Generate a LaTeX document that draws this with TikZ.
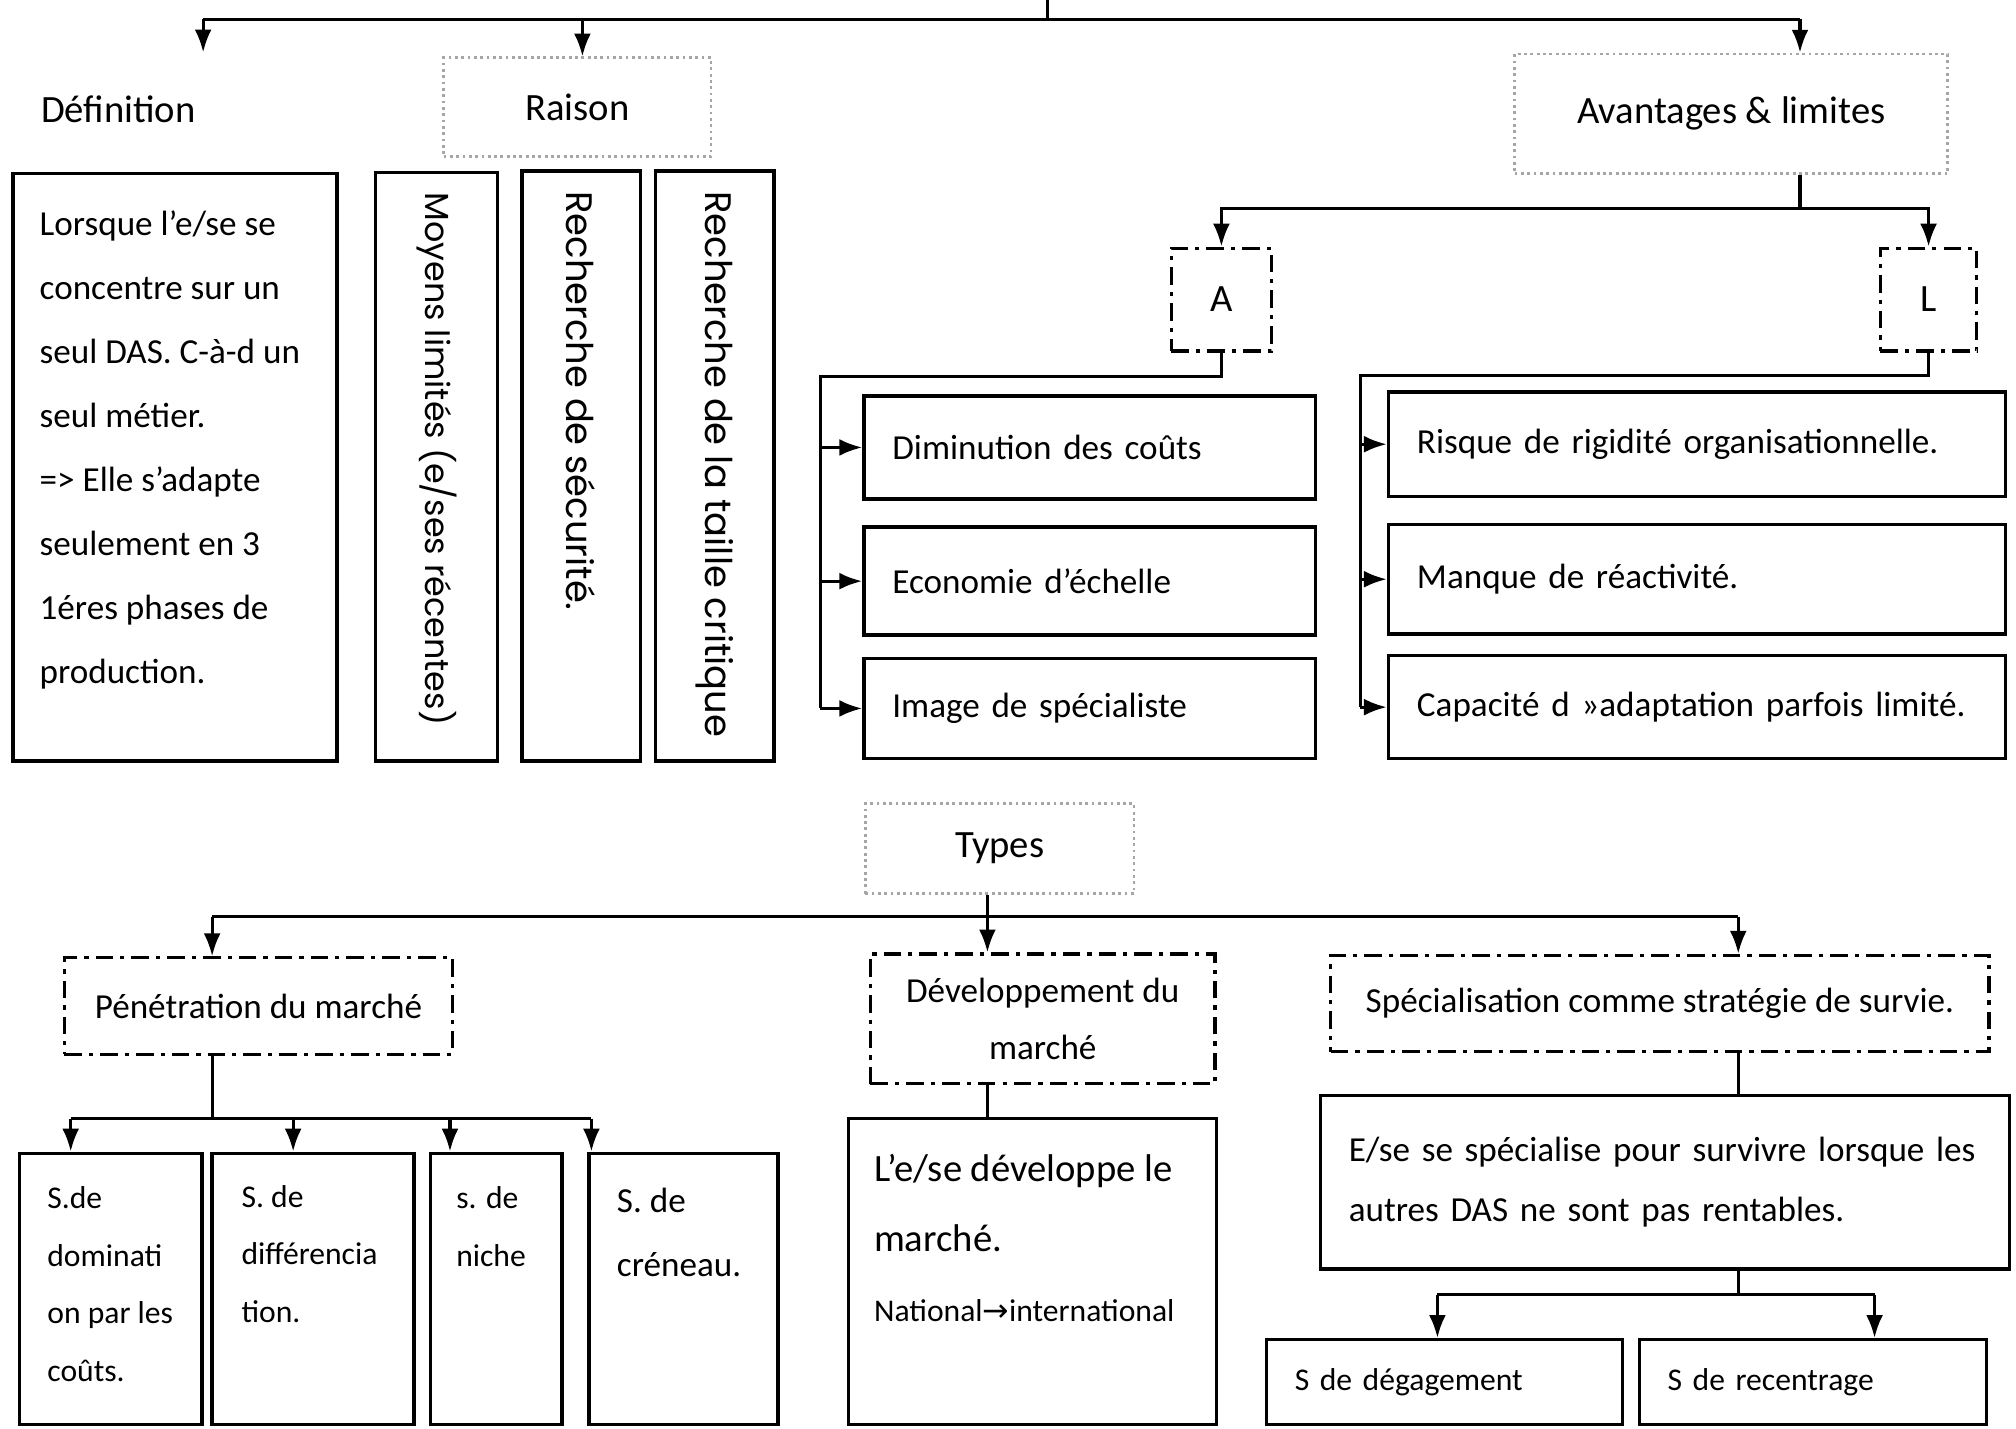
\documentclass[tikz,border=0pt]{standalone}
\usepackage{fontspec}
\setmainfont{Carlito}
\newfontfamily\gothfont{Poppins}
\newfontfamily\symfont{DejaVu Sans}
\usetikzlibrary{arrows.meta}

\def\pxu{0.012857cm}

\tikzset{
	wh/.style 2 args = {minimum width = #1*\pxu, minimum height = #2*\pxu},
	box/.style = {draw, line width = 1pt, inner sep = 0pt},
	faintbox/.style = {draw = black!35, densely dotted, line width = 0.8pt, inner sep = 0pt},
	dashdotbox/.style = {draw, line width = 0.9pt, dash pattern = on 5pt off 2pt on 1.2pt off 2pt, inner sep = 0pt},
	item/.style = {box, align = left, inner xsep = 22*\pxu, text width = #1},
	txt/.style = {inner sep = 0pt, align = left, anchor = north west},
	vtxt/.style = {rotate = -90, anchor = west, inner sep = 0pt, font = \gothfont\fontsize{#1}{12}\selectfont},
	hfont/.style = {font = \fontsize{11}{13}\selectfont}
}

\begin{document}
\begin{tikzpicture}[x = \pxu, y = -\pxu, > = {Latex[length = 6.5pt, width = 4.8pt]}, line width = 0.9pt]

	\useasboundingbox (0, 0) rectangle (1568, 1111);

	% Top level
	
	\coordinate (root) at (815, 0);
	\coordinate (bus) at (815, 15);
	\coordinate (bdef) at (158, 15);
	\coordinate (brai) at (453, 15);
	\coordinate (bavl) at (1400, 15);

	\node [hfont, wh = {140}{86}] (defh) at (92, 85) {Définition};
	\node [faintbox, hfont, wh = {208}{77}] (rai) at (449, 83.5) {Raison};
	\node [faintbox, hfont, wh = {337}{93}] (avl) at (1346.5, 88.5) {Avantages \& limites};

	\draw (root) -- (bus);
	\draw (bdef) -- (bavl);

	\begin{scope}[->]
	
		\draw (bdef) -- (bdef |- defh.north);
		\draw (brai) -- (brai |- rai.north);
		\draw (bavl) -- (bavl |- avl.north);
		
	\end{scope}

	% Definition and reasons
	
	\node [box, wh = {252}{457}] (defbox) at (136, 363.5) {};
	\node [txt, font = \fontsize{10}{18.2}\selectfont] (deftxt) at ([shift = {(21, 29)}] defbox.north west)
		{Lorsque l’e/se se\\ concentre sur un\\ seul DAS. C-à-d un\\ seul métier.\\ => Elle s’adapte\\ seulement en 3\\ 1éres phases de\\ production.};

	\node [box, wh = {95}{458}] (moy) at (339.5, 363) {};
	\node [box, wh = {92}{459}] (sec) at (452, 362.5) {};
	\node [box, wh = {92}{459}] (tai) at (556, 362.5) {};
	\node [vtxt = 9.5] (moytxt) at ([shift = {(0, 16)}] moy.north) {Moyens limités (e/ses récentes)};
	\node [vtxt = 10.5] (sectxt) at ([shift = {(0, 16)}] sec.north) {Recherche de sécurité.};
	\node [vtxt = 10.5] (taitxt) at ([shift = {(0, 16)}] tai.north) {Recherche de la taille critique};

	% Advantages and limits
	
	\coordinate (avbus) at (1400, 162);
	\node [dashdotbox, hfont, wh = {78}{80}] (A) at (950, 233) {A};
	\node [dashdotbox, hfont, wh = {75}{80}] (L) at (1500, 233) {L};

	\draw (avl.south -| avbus) -- (avbus);
	\draw [->] (avbus) -| (A.north);
	\draw [->] (avbus) -| (L.north);

	\node [item = 3.947cm, wh = {351}{80}] (a1) at (847.5, 348) {Diminution des coûts};
	\node [item = 3.947cm, wh = {351}{84}] (a2) at (847.5, 452) {Economie d’échelle};
	\node [item = 3.947cm, wh = {351}{78}] (a3) at (847.5, 551) {Image de spécialiste};

	\node [item = 5.606cm, wh = {480}{81}] (l1) at (1320, 345.5) {Risque de rigidité organisationnelle.};
	\node [item = 5.606cm, wh = {480}{85}] (l2) at (1320, 450.5) {Manque de réactivité.};
	\node [item = 5.606cm, wh = {480}{80}] (l3) at (1320, 550) {Capacité d »adaptation parfois limité.};

	\coordinate (aspine) at (638, 293);
	\coordinate (lspine) at (1058, 292);
	\draw (A.south) |- (aspine) -- (aspine |- a3.west);
	\draw (L.south) |- (lspine) -- (lspine |- l3.west);

	\begin{scope}[->]
	
		\draw (aspine |- a1.west) -- (a1.west);
		\draw (aspine |- a2.west) -- (a2.west);
		\draw (aspine |- a3.west) -- (a3.west);
		\draw (lspine |- l1.west) -- (l1.west);
		\draw (lspine |- l2.west) -- (l2.west);
		\draw (lspine |- l3.west) -- (l3.west);
		
	\end{scope}

	% Types
	
	\node [faintbox, hfont, wh = {209}{70}] (types) at (777.5, 660) {Types};
	\coordinate (tbus) at (768, 713);
	\coordinate (tpen) at (165, 713);
	\coordinate (tspe) at (1352, 713);

	\node [dashdotbox, wh = {302}{75}] (pen) at (201, 782.5) {Pénétration du marché};
	\node [dashdotbox, align = center, wh = {268}{101}, font = \fontsize{10}{16.4}\selectfont] (dev) at (811, 792.5) {Développement du\\ marché};
	\node [dashdotbox, wh = {512}{75}] (spe) at (1291, 780.5) {Spécialisation comme stratégie de survie.};

	\draw (types.south -| tbus) -- (tbus);
	\draw (tpen) -- (tspe);

	\begin{scope}[->]
	
		\draw (tpen) -- (tpen |- pen.north);
		\draw (tbus) -- (tbus |- dev.north);
		\draw (tspe) -- (tspe |- spe.north);
		
	\end{scope}

	% Market penetration
	
	\coordinate (pbus) at (165, 870);
	\coordinate (p1) at (55, 870);
	\coordinate (p2) at (228, 870);
	\coordinate (p3) at (350, 870);
	\coordinate (p4) at (460, 870);

	\node [box, wh = {142}{211}] (s1) at (86, 1002.5) {};
	\node [box, wh = {157}{211}] (s2) at (243.5, 1002.5) {};
	\node [box, wh = {102}{211}] (s3) at (386, 1002.5) {};
	\node [box, wh = {147}{211}] (s4) at (531.5, 1002.5) {};

	\node [txt, font = \fontsize{9}{16.4}\selectfont] (s1txt) at ([shift = {(22, 26)}] s1.north west) {S.de\\ dominati\\ on par les\\ coûts.};
	\node [txt, font = \fontsize{9}{16.4}\selectfont] (s2txt) at ([shift = {(23, 25)}] s2.north west) {S. de\\ différencia\\ tion.};
	\node [txt, font = \fontsize{9}{16.4}\selectfont] (s3txt) at ([shift = {(20, 26)}] s3.north west) {s. de\\ niche};
	\node [txt, font = \fontsize{10}{18.2}\selectfont] (s4txt) at ([shift = {(22, 27)}] s4.north west) {S. de\\ créneau.};

	\draw (pen.south -| pbus) -- (pbus);
	\draw (p1) -- (p4);

	\begin{scope}[->]
	
		\draw (p1) -- (p1 |- s1.north);
		\draw (p2) -- (p2 |- s2.north);
		\draw (p3) -- (p3 |- s3.north);
		\draw (p4) -- (p4 |- s4.north);
		
	\end{scope}

	% Market development
	
	\node [box, wh = {286}{238}] (devbox) at (803, 989) {};
	\node [txt, font = \fontsize{11}{20}\selectfont] (devtxt) at ([shift = {(20, 28)}] devbox.north west) {L’e/se développe le\\ marché.};
	\node [txt, font = \fontsize{9}{11}\selectfont] (devsub) at ([shift = {(0, 34)}] devtxt.south west) {National{\symfont →}international};

	\draw (dev.south -| tbus) -- (tbus |- devbox.north);

	% Survival
	
	\node [item = 6.326cm, wh = {536}{135}, font = \fontsize{10}{17.1}\selectfont] (spebox) at (1295, 919.5)
		{E/se se spécialise pour survivre lorsque les\\ autres DAS ne sont pas rentables.};
	\node [item = 2.996cm, wh = {277}{66}, font = \fontsize{9}{11}\selectfont] (deg) at (1123.5, 1075) {S de dégagement};
	\node [item = 2.906cm, wh = {270}{66}, font = \fontsize{9}{11}\selectfont] (rec) at (1410, 1075) {S de recentrage};

	\coordinate (sbus) at (1352, 1007);
	\coordinate (sdeg) at (1118, 1007);
	\coordinate (srec) at (1458, 1007);

	\draw (spe.south -| sbus) -- (sbus |- spebox.north);
	\draw (spebox.south -| sbus) -- (sbus);
	\draw (sdeg) -- (srec);

	\begin{scope}[->]
	
		\draw (sdeg) -- (sdeg |- deg.north);
		\draw (srec) -- (srec |- rec.north);
		
	\end{scope}

\end{tikzpicture}
\end{document}
